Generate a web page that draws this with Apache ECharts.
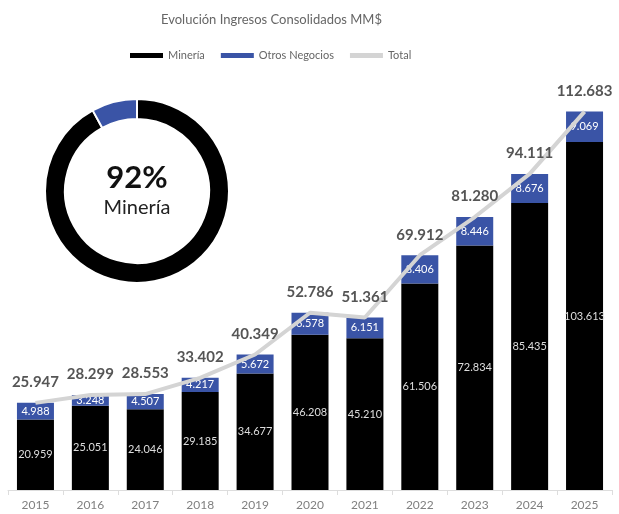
<!DOCTYPE html>
<html>
<head>
<meta charset="utf-8">
<script src="https://cdn.jsdelivr.net/npm/echarts@6/dist/echarts.min.js"></script>
<style>html,body{margin:0;padding:0;background:#fff}#c{width:619px;height:514px}</style>
</head>
<body>
<div id="c"></div>
<script>
var years = ['2015','2016','2017','2018','2019','2020','2021','2022','2023','2024','2025'];
var mineria = [20.959,25.051,24.046,29.185,34.677,46.208,45.210,61.506,72.834,85.435,103.613];
var otros = [4.988,3.248,4.507,4.217,5.672,6.578,6.151,8.406,8.446,8.676,9.069];
var total = [25.947,28.299,28.553,33.402,40.349,52.786,51.361,69.912,81.280,94.111,112.683];
var donutNames = ['Minería','Otros Negocios'];
var donutShares = [92,8];

var FONT = 'Lato, "Open Sans", sans-serif';
function fmt(v){ return v.toFixed(3); }

var chart = echarts.init(document.getElementById('c'), null, {renderer:'canvas'});
chart.setOption({
  animation:false,
  textStyle:{fontFamily:FONT},
  title:{text:'Evolución Ingresos Consolidados MM$', left:156, top:8,
    textStyle:{fontSize:13, fontWeight:'normal', color:'#666', fontFamily:FONT}},
  legend:{top:45, left:125, itemWidth:33, itemHeight:5, itemGap:16, icon:'rect',
    textStyle:{fontSize:11, color:'#666', fontFamily:FONT},
    data:['Minería','Otros Negocios','Total']},
  grid:{left:8, right:7, top:87, bottom:24},
  xAxis:{type:'category', data:years,
    axisLine:{lineStyle:{color:'#ddd'}},
    axisTick:{show:true, length:5, lineStyle:{color:'#ddd'}},
    axisLabel:{color:'#808080', fontSize:12, margin:9, fontFamily:FONT}},
  yAxis:{type:'value', min:0, max:120, show:false, splitLine:{show:false}},
  series:[
    {name:'Minería', type:'bar', stack:'t', data:mineria, barWidth:37,
      itemStyle:{color:'#000'},
      label:{show:true, position:'inside', color:'#ddd', fontSize:11, fontFamily:FONT,
        formatter:function(p){return fmt(p.value);}}},
    {name:'Otros Negocios', type:'bar', stack:'t', data:otros, barWidth:37,
      itemStyle:{color:'#3a54a6'},
      label:{show:true, position:'inside', color:'#fff', fontSize:11, fontFamily:FONT,
        formatter:function(p){return fmt(p.value);}}},
    {name:'Total', type:'line', data:total, z:5, showSymbol:true, symbol:'circle', symbolSize:0.1,
      lineStyle:{color:'#d4d4d4', width:4}, itemStyle:{color:'#d4d4d4'},
      label:{show:true, position:'top', distance:13, color:'#555', fontSize:15, fontWeight:'bold', fontFamily:FONT,
        formatter:function(p){return fmt(p.value);}}},
    {name:'Participación', type:'pie', center:[137,191], radius:[72,92], startAngle:90,
      silent:true, legendHoverLink:false,
      itemStyle:{borderColor:'#fff', borderWidth:2},
      labelLine:{show:false},
      data:[
        {name:donutNames[0], value:donutShares[0], itemStyle:{color:'#000'},
          label:{show:true, position:'center',
            formatter:function(p){return '{a|'+p.value+'%}\n{b|'+p.name+'}';},
            rich:{a:{fontSize:31, fontWeight:'bold', color:'#111', fontFamily:FONT, lineHeight:34},
                  b:{fontSize:20, color:'#222', fontFamily:FONT, lineHeight:26}}}},
        {name:donutNames[1], value:donutShares[1], itemStyle:{color:'#3a54a6'}, label:{show:false}}
      ]}
  ]
});
</script>
</body>
</html>
